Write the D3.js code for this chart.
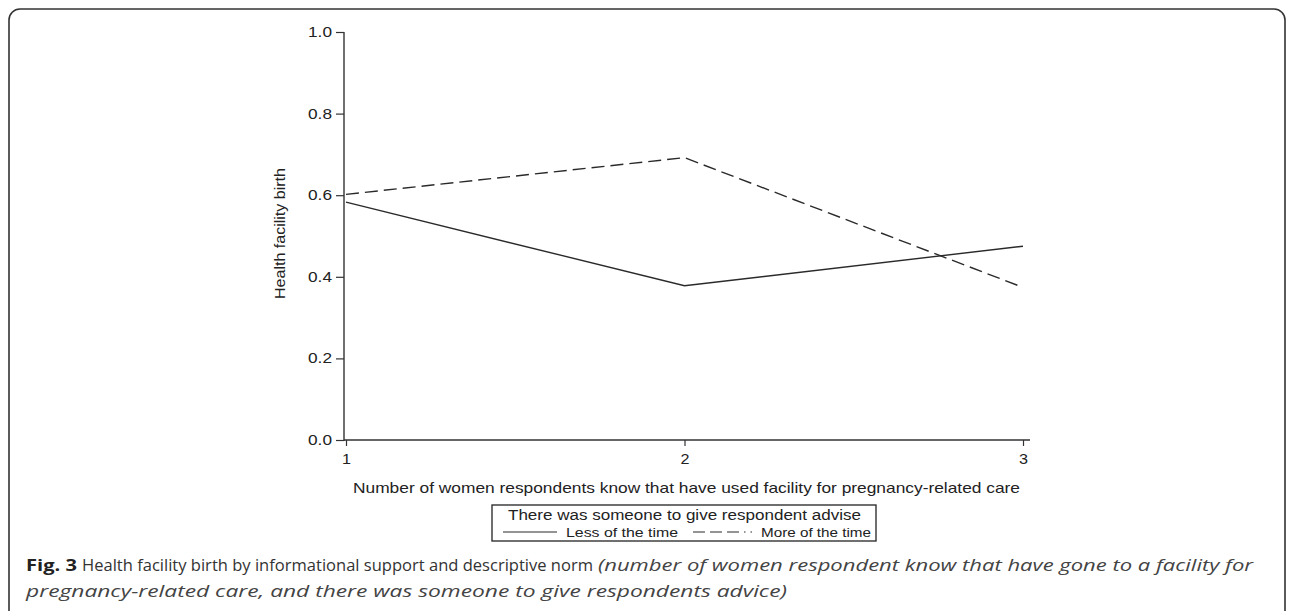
<!DOCTYPE html>
<html><head><meta charset="utf-8">
<script src="https://cdn.jsdelivr.net/npm/d3@7"></script>
<style>
html,body{margin:0;padding:0;background:#fff;}
svg{display:block;}
</style></head>
<body>
<svg id="c" width="1293" height="611"></svg>
<script>
const categories = [1, 2, 3];
const lessOfTheTime = [0.583, 0.378, 0.475];
const moreOfTheTime = [0.602, 0.692, 0.374];
const yTicks = [0, 0.2, 0.4, 0.6, 0.8, 1.0];
const seriesNames = ["Less of the time", "More of the time"];
const xTitle = "Number of women respondents know that have used facility for pregnancy-related care";
const yTitle = "Health facility birth";
const legendTitle = "There was someone to give respondent advise";
const captionLabel = "Fig. 3";
const captionMain = "Health facility birth by informational support and descriptive norm";
const captionItalic1 = "(number of women respondent know that have gone to a facility for";
const captionItalic2 = "pregnancy-related care, and there was someone to give respondents advice)";

const svg = d3.select("#c");
const font = "'Liberation Sans', Arial, sans-serif";
const ink = "#222";

function stretch(sel, len) {
  return sel.attr("textLength", len).attr("lengthAdjust", "spacingAndGlyphs");
}

// outer rounded frame
svg.append("rect").attr("x", 9).attr("y", 9).attr("width", 1276).attr("height", 640)
  .attr("rx", 11).attr("fill", "none").attr("stroke", "#333").attr("stroke-width", 1.6);

const x = d3.scaleLinear().domain([1, 3]).range([346, 1023]);
const y = d3.scaleLinear().domain([0, 1]).range([440, 32]);

// y axis
const yAx = svg.append("g").attr("transform", "translate(344,0)")
  .call(d3.axisLeft(y).tickValues(yTicks).tickFormat(d3.format(".1f")).tickSize(8).tickSizeOuter(0).tickPadding(4));
yAx.select(".domain").remove();
yAx.append("line").attr("x1", 0).attr("x2", 0).attr("y1", y(1)).attr("y2", y(0) + 1).attr("stroke", "#333").attr("stroke-width", 1.4);
yAx.selectAll(".tick line").attr("stroke", "#333").attr("stroke-width", 1.2);
yAx.selectAll(".tick text").attr("font-family", font).attr("font-size", 14).attr("fill", ink)
  .attr("textLength", 24).attr("lengthAdjust", "spacingAndGlyphs");

// x axis
const xAx = svg.append("g").attr("transform", "translate(0,440)")
  .call(d3.axisBottom(x).tickValues(categories).tickFormat(d3.format("d")).tickSize(6).tickSizeOuter(0).tickPadding(8));
xAx.select(".domain").remove();
xAx.append("line").attr("x1", 344).attr("x2", 1030).attr("y1", 0).attr("y2", 0).attr("stroke", "#333").attr("stroke-width", 1.4);
xAx.selectAll(".tick line").attr("stroke", "#333").attr("stroke-width", 1.2);
xAx.selectAll(".tick text").attr("font-family", font).attr("font-size", 14.5).attr("fill", ink)
  .attr("textLength", 9).attr("lengthAdjust", "spacingAndGlyphs");

// axis titles
stretch(svg.append("text").attr("x", 353).attr("y", 493)
  .attr("font-family", font).attr("font-size", 14.5).attr("fill", ink).text(xTitle), 667);
stretch(svg.append("text").attr("transform", "translate(285,299) rotate(-90)")
  .attr("font-family", font).attr("font-size", 14).attr("fill", ink).text(yTitle), 131);

// lines
const line = d3.line().x((d, i) => x(categories[i])).y(d => y(d));
svg.append("path").datum(lessOfTheTime).attr("d", line).attr("fill", "none")
  .attr("stroke", "#2a2a2a").attr("stroke-width", 1.4);
svg.append("path").datum(moreOfTheTime).attr("d", line).attr("fill", "none")
  .attr("stroke", "#2a2a2a").attr("stroke-width", 1.4).attr("stroke-dasharray", "13,6");

// legend
const lg = svg.append("g");
lg.append("rect").attr("x", 492).attr("y", 505).attr("width", 384).attr("height", 36)
  .attr("fill", "#fff").attr("stroke", "#222").attr("stroke-width", 1.3);
stretch(lg.append("text").attr("x", 508).attr("y", 520)
  .attr("font-family", font).attr("font-size", 14).attr("fill", ink).text(legendTitle), 353);
lg.append("line").attr("x1", 503).attr("x2", 557).attr("y1", 532).attr("y2", 532)
  .attr("stroke", "#2a2a2a").attr("stroke-width", 1.2);
stretch(lg.append("text").attr("x", 566).attr("y", 537).attr("font-family", font).attr("font-size", 13.5)
  .attr("fill", ink).text(seriesNames[0]), 112);
lg.append("line").attr("x1", 693).attr("x2", 752).attr("y1", 532).attr("y2", 532)
  .attr("stroke", "#2a2a2a").attr("stroke-width", 1.2).attr("stroke-dasharray", "12,5,12,5,12,5,1.5,5");
stretch(lg.append("text").attr("x", 761).attr("y", 537).attr("font-family", font).attr("font-size", 13.5)
  .attr("fill", ink).text(seriesNames[1]), 110);

// caption
const cf = "'Open Sans', 'Noto Sans', sans-serif";
stretch(svg.append("text").attr("x", 26).attr("y", 571).attr("font-family", cf).attr("font-size", 15.5)
  .attr("font-weight", "bold").attr("fill", "#222").text(captionLabel), 51);
stretch(svg.append("text").attr("x", 82).attr("y", 571).attr("font-family", cf).attr("font-size", 15.5)
  .attr("fill", "#333").text(captionMain), 511);
stretch(svg.append("text").attr("x", 598).attr("y", 571).attr("font-family", cf).attr("font-size", 16.5)
  .attr("font-style", "italic").attr("fill", "#444").text(captionItalic1), 655);
stretch(svg.append("text").attr("x", 26).attr("y", 597).attr("font-family", cf).attr("font-size", 16.5)
  .attr("font-style", "italic").attr("fill", "#444").text(captionItalic2), 761);
</script>
</body></html>
